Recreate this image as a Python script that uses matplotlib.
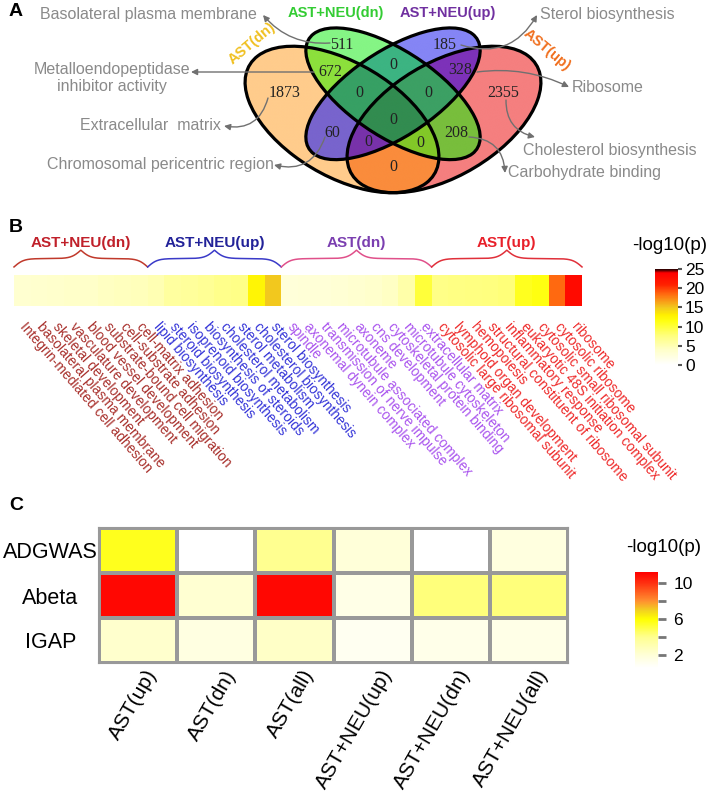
import numpy as np
import matplotlib
matplotlib.use('Agg')
import matplotlib.pyplot as plt
from matplotlib.patches import Ellipse
from matplotlib.colors import LinearSegmentedColormap, to_rgba
from matplotlib.transforms import ScaledTranslation

plt.rcParams['font.family'] = ['Liberation Sans', 'DejaVu Sans']

W, H = 709, 796

# ---------------- data ----------------
# panel A: venn counts, membership order = (AST(dn), AST+NEU(dn), AST+NEU(up), AST(up))
venn_sets = ['AST(dn)', 'AST+NEU(dn)', 'AST+NEU(up)', 'AST(up)']
venn_regions = [(1, 0, 0, 0), (0, 1, 0, 0), (0, 0, 1, 0), (0, 0, 0, 1),
                (1, 1, 0, 0), (0, 1, 1, 0), (0, 0, 1, 1), (1, 0, 1, 0),
                (0, 1, 0, 1), (1, 0, 0, 1), (1, 1, 1, 0), (0, 1, 1, 1),
                (1, 0, 1, 1), (1, 1, 0, 1), (1, 1, 1, 1)]
venn_counts = [1873, 511, 185, 2355, 672, 0, 328, 60, 208, 0, 0, 0, 0, 0, 0]

go_left = ['Basolateral plasma membrane', 'Metalloendopeptidase\ninhibitor activity',
           'Extracellular  matrix', 'Chromosomal pericentric region']
go_right = ['Sterol biosynthesis', 'Ribosome', 'Cholesterol biosynthesis',
            'Carbohydrate binding']

# panel B: enrichment strip
b_groups = ['AST+NEU(dn)', 'AST+NEU(up)', 'AST(dn)', 'AST(up)']
b_terms = [
    ['Integrin-mediated cell adhesion', 'basolateral plasma membrane',
     'skeletal development', 'vasculature development', 'blood vessel development',
     'substrate-bound cell migration', 'cell-substrate adhesion', 'cell-matrix adhesion'],
    ['lipid biosynthesis', 'steroid biosynthesis', 'isoprenoid biosynthesis',
     'biosynthesis of steroids', 'cholesterol metabolism', 'sterol metabolism',
     'cholesterol biosynthesis', 'sterol biosynthesis'],
    ['spindle', 'axonemal dynein complex', 'transmission of nerve impulse',
     'microtubule associated complex', 'axoneme', 'cns development',
     'cytoskeletal protein binding', 'microtubule cytoskeleton', 'extracellular matrix'],
    ['cytosolic large ribosomal subunit', 'lymphoid organ development', 'hemopoiesis',
     'structural constituent of ribosome', 'inflammatory response',
     'eukaryotic 48S initiation complex', 'cytosolic small ribosomal subunit',
     'cytosolic ribosome', 'ribosome'],
]
b_vals = [
    [3.5, 3.6, 3.8, 4.0, 4.0, 4.3, 4.5, 4.6],
    [5.0, 6.0, 6.2, 6.5, 7.0, 7.2, 12.5, 15.0],
    [2.8, 3.0, 3.0, 3.2, 3.5, 3.8, 4.2, 5.5, 10.0],
    [7.2, 7.4, 7.5, 7.6, 7.8, 11.0, 11.5, 18.5, 23.0],
]

# panel C: GWAS / Abeta overlap
c_rows = ['ADGWAS', 'Abeta', 'IGAP']
c_cols = ['AST(up)', 'AST(dn)', 'AST(all)', 'AST+NEU(up)', 'AST+NEU(dn)', 'AST+NEU(all)']
c_adgwas = [5.6, 0.6, 4.0, 2.0, 0.6, 1.8]
c_abeta = [11.0, 2.2, 11.0, 1.5, 4.3, 4.3]
c_igap = [2.3, 1.7, 2.5, 1.1, 1.4, 1.5]

# ---------------- styles ----------------
ellipses = [((0.35, 0.47), (0.35, 0.20), 135),
            ((0.50, 0.57), (0.33, 0.15), 135),
            ((0.50, 0.57), (0.33, 0.15), 45),
            ((0.65, 0.47), (0.35, 0.20), 45)]
region_colors = ['#FFCC8C', '#85F585', '#8585F5', '#F57F7F',
                 '#8CE03C', '#3CB482', '#7D32B9', '#7864CD',
                 '#78BE3C', '#FA8C3C', '#37A064', '#3CA064',
                 '#7832AA', '#82C828', '#328C50']
label_pos = [(285, 93), (342, 45), (445, 45), (503, 93), (330, 72), (393, 65),
             (460, 70), (332, 133), (456, 133), (393, 167), (359, 93), (428, 93),
             (368, 142), (420, 143), (393, 120)]
set_label_style = [((252, 43), 40, '#F0C020'), ((336, 13), 0, '#33CC33'),
                   ((448, 13), 0, '#7030A0'), ((547, 50), -40, '#F07020')]

b_label_colors = ['#A8302C', '#3535D8', '#AA55EE', '#EE2A2A']
b_brace_colors = ['#C0392B', '#3A3AC8', '#E0508A', '#E0303A']
b_title_colors = ['#C0202A', '#222299', '#7B3FB0', '#E8202A']

cmap_b = LinearSegmentedColormap.from_list('b', [
    (0, '#FFFFFF'), (0.16, '#FFFFC8'), (0.3, '#FFFF80'), (0.46, '#FFFF10'),
    (0.52, '#FFF000'), (0.6, '#F2C81E'), (0.74, '#FF6A10'), (0.84, '#FF2000'),
    (0.96, '#FF0000'), (1.0, '#200000')])
c_vmin, c_vmax = 0.6, 11.2
cmap_c = LinearSegmentedColormap.from_list('c', [
    (0, '#FFFFFF'), (0.132, '#FFFFD8'), (0.321, '#FFFF90'), (0.509, '#FFFF00'),
    (0.604, '#F2D020'), (0.698, '#FF9030'), (0.792, '#FF6020'), (0.887, '#FF3010'),
    (1.0, '#FF0000')])

fig = plt.figure(figsize=(W / 100, H / 100), dpi=100)


def px_axes(x0, y0, x1, y1):
    return fig.add_axes([x0 / W, 1 - y1 / H, (x1 - x0) / W, (y1 - y0) / H])


# ---------------- panel A ----------------
va = px_axes(223, 16.7, 563, 201.7)
va.set_xlim(0, 1)
va.set_ylim(0.15, 0.87)
va.axis('off')
xs = np.linspace(0, 1, 1400)
ys = np.linspace(0.15, 0.87, 760)
X, Y = np.meshgrid(xs, ys)
masks = []
for (cx, cy), (ra, rb), ang in ellipses:
    t = np.deg2rad(ang)
    dx, dy = X - cx, Y - cy
    u = dx * np.cos(t) + dy * np.sin(t)
    v = -dx * np.sin(t) + dy * np.cos(t)
    masks.append((u / ra) ** 2 + (v / rb) ** 2 <= 1)
img = np.zeros(X.shape + (4,))
for key, col in zip(venn_regions, region_colors):
    m = np.ones(X.shape, bool)
    for k, mk in zip(key, masks):
        m &= mk if k else ~mk
    img[m] = to_rgba(col)
va.imshow(img, extent=(0, 1, 0.15, 0.87), origin='lower', aspect='auto',
          interpolation='bilinear')
for (cx, cy), (ra, rb), ang in ellipses:
    va.add_patch(Ellipse((cx, cy), 2 * ra, 2 * rb, angle=ang, fill=False,
                         lw=2.3, ec='black'))

# ---------------- panel B ----------------
vals_b = np.concatenate(b_vals)
terms_b = sum(b_terms, [])
nb = len(vals_b)
bx = px_axes(14, 275, 582, 306)
bx.pcolormesh(np.arange(nb + 1), [0, 1], vals_b[None, :], cmap=cmap_b, vmin=0, vmax=25)
bx.set_xlim(0, nb)
bx.set_ylim(0, 1)
for s in bx.spines.values():
    s.set_visible(False)
bx.set_yticks([])
bx.set_xticks(np.arange(nb) + 0.5)
bx.set_xticklabels(terms_b, rotation=-49, ha='left', va='center',
                   rotation_mode='anchor', fontsize=10)
bx.tick_params(axis='x', length=0, pad=13)
cols = sum([[c] * len(t) for c, t in zip(b_label_colors, b_terms)], [])
for lbl, c in zip(bx.get_xticklabels(), cols):
    lbl.set_color(c)

# braces + group titles
start = 0
for g, terms in enumerate(b_terms):
    x0, x1 = start, start + len(terms)
    start = x1
    xx = np.linspace(x0, x1, 301)
    half = xx[:151]
    beta = 3.5
    yh = (1 / (1 + np.exp(-beta * (half - half[0])))
          + 1 / (1 + np.exp(-beta * (half - half[-1]))))
    yy = np.concatenate((yh, yh[-2::-1]))
    yy = 1.26 + (yy - 0.5) * 0.54
    bx.plot(xx, yy, color=b_brace_colors[g], lw=1.1, clip_on=False)
    bx.text((x0 + x1) / 2, 2.03, b_groups[g], ha='center', va='center',
            color=b_title_colors[g], fontsize=11, fontweight='bold', clip_on=False)

cbx = px_axes(655, 269, 678, 365)
cb = fig.colorbar(plt.cm.ScalarMappable(cmap=cmap_b, norm=plt.Normalize(0, 25)), cax=cbx)
cb.outline.set_visible(False)
cb.set_ticks([0, 5, 10, 15, 20, 25])
cbx.tick_params(labelsize=12.5, length=3, width=1.5, color='#555555', pad=2)

# ---------------- panel C ----------------
vals_c = np.array([c_adgwas, c_abeta, c_igap])
cx_ = px_axes(99, 528, 568, 663)
cx_.pcolormesh(vals_c, cmap=cmap_c, vmin=c_vmin, vmax=c_vmax,
               edgecolors='#999999', linewidth=1.5)
cx_.set_xlim(0, len(c_cols))
cx_.set_ylim(len(c_rows), 0)
for s in cx_.spines.values():
    s.set_color('#999999')
    s.set_linewidth(1.5)
cx_.set_yticks(np.arange(len(c_rows)) + 0.5)
cx_.set_yticklabels(c_rows, fontsize=15.5, ha='center')
cx_.tick_params(axis='y', length=0, pad=35)
cx_.set_xticks(np.arange(len(c_cols)) + 0.5)
cx_.set_xticklabels(c_cols, fontsize=15, rotation=60, ha='right', va='center',
                    rotation_mode='anchor')
cx_.tick_params(axis='x', length=0, pad=6)
for lbl in cx_.get_xticklabels():
    lbl.set_transform(lbl.get_transform() + ScaledTranslation(0.15, 0, fig.dpi_scale_trans))

ccx = px_axes(635, 572, 658, 668)
cb2 = fig.colorbar(plt.cm.ScalarMappable(cmap=cmap_c, norm=plt.Normalize(c_vmin, c_vmax)), cax=ccx)
cb2.outline.set_visible(False)
cb2.set_ticks([2, 4, 6, 8, 10])
cb2.set_ticklabels(['2', '', '6', '', '10'])
ccx.tick_params(labelsize=12.5, length=6, width=2, color='#777777', pad=5)

# ---------------- overlay: labels, arrows ----------------
ov = fig.add_axes([0, 0, 1, 1])
ov.set_xlim(0, W)
ov.set_ylim(H, 0)
ov.axis('off')
ov.patch.set_alpha(0)

for (x, y), n in zip(label_pos, venn_counts):
    ov.text(x, y, str(n), ha='center', va='center', fontsize=11.5,
            family='Liberation Serif', color='#222222')
for name, ((x, y), rot, c) in zip(venn_sets, set_label_style):
    ov.text(x, y, name, ha='center', va='center', rotation=rot, color=c,
            fontsize=10.5, fontweight='bold')

gray = '#8A8A8A'
left_txt = [(148, 15), (112, 78), (150, 126), (160, 165)]
left_arrow = [((330, 43), (263, 15), -0.25), ((314, 72), (191, 72), 0.0),
              ((268, 98), (224, 126), -0.45), ((325, 137), (274, 165), -0.45)]
for s, (x, y), (p0, p1, rad) in zip(go_left, left_txt, left_arrow):
    ov.text(x, y, s, ha='center', va='center', fontsize=11.5, color=gray,
            linespacing=1.15)
    ov.annotate('', xy=p1, xytext=p0,
                arrowprops=dict(arrowstyle='-|>', color='#707070', lw=1,
                                mutation_scale=9, shrinkA=0, shrinkB=0,
                                connectionstyle='arc3,rad=%s' % rad))
right_txt = [(540, 15), (572, 87), (523, 150), (508, 173)]
right_arrow = [((461, 45), (537, 15), 0.4), ((477, 72), (569, 87), -0.15),
               ((506, 100), (535, 137), 0.4), ((469, 137), (505, 173), -0.45)]
for s, (x, y), (p0, p1, rad) in zip(go_right, right_txt, right_arrow):
    ov.text(x, y, s, ha='left', va='center', fontsize=11.5, color=gray)
    ov.annotate('', xy=p1, xytext=p0,
                arrowprops=dict(arrowstyle='-|>', color='#707070', lw=1,
                                mutation_scale=9, shrinkA=0, shrinkB=0,
                                connectionstyle='arc3,rad=%s' % rad))

ov.text(670, 245, '-log10(p)', ha='center', va='center', fontsize=13.5)
ov.text(664, 548, '-log10(p)', ha='center', va='center', fontsize=13.5)
for s, y in zip('ABC', [12, 228, 505]):
    ov.text(16, y, s, ha='center', va='center', fontsize=14, fontweight='bold')

fig.savefig('out.png', dpi=100)
